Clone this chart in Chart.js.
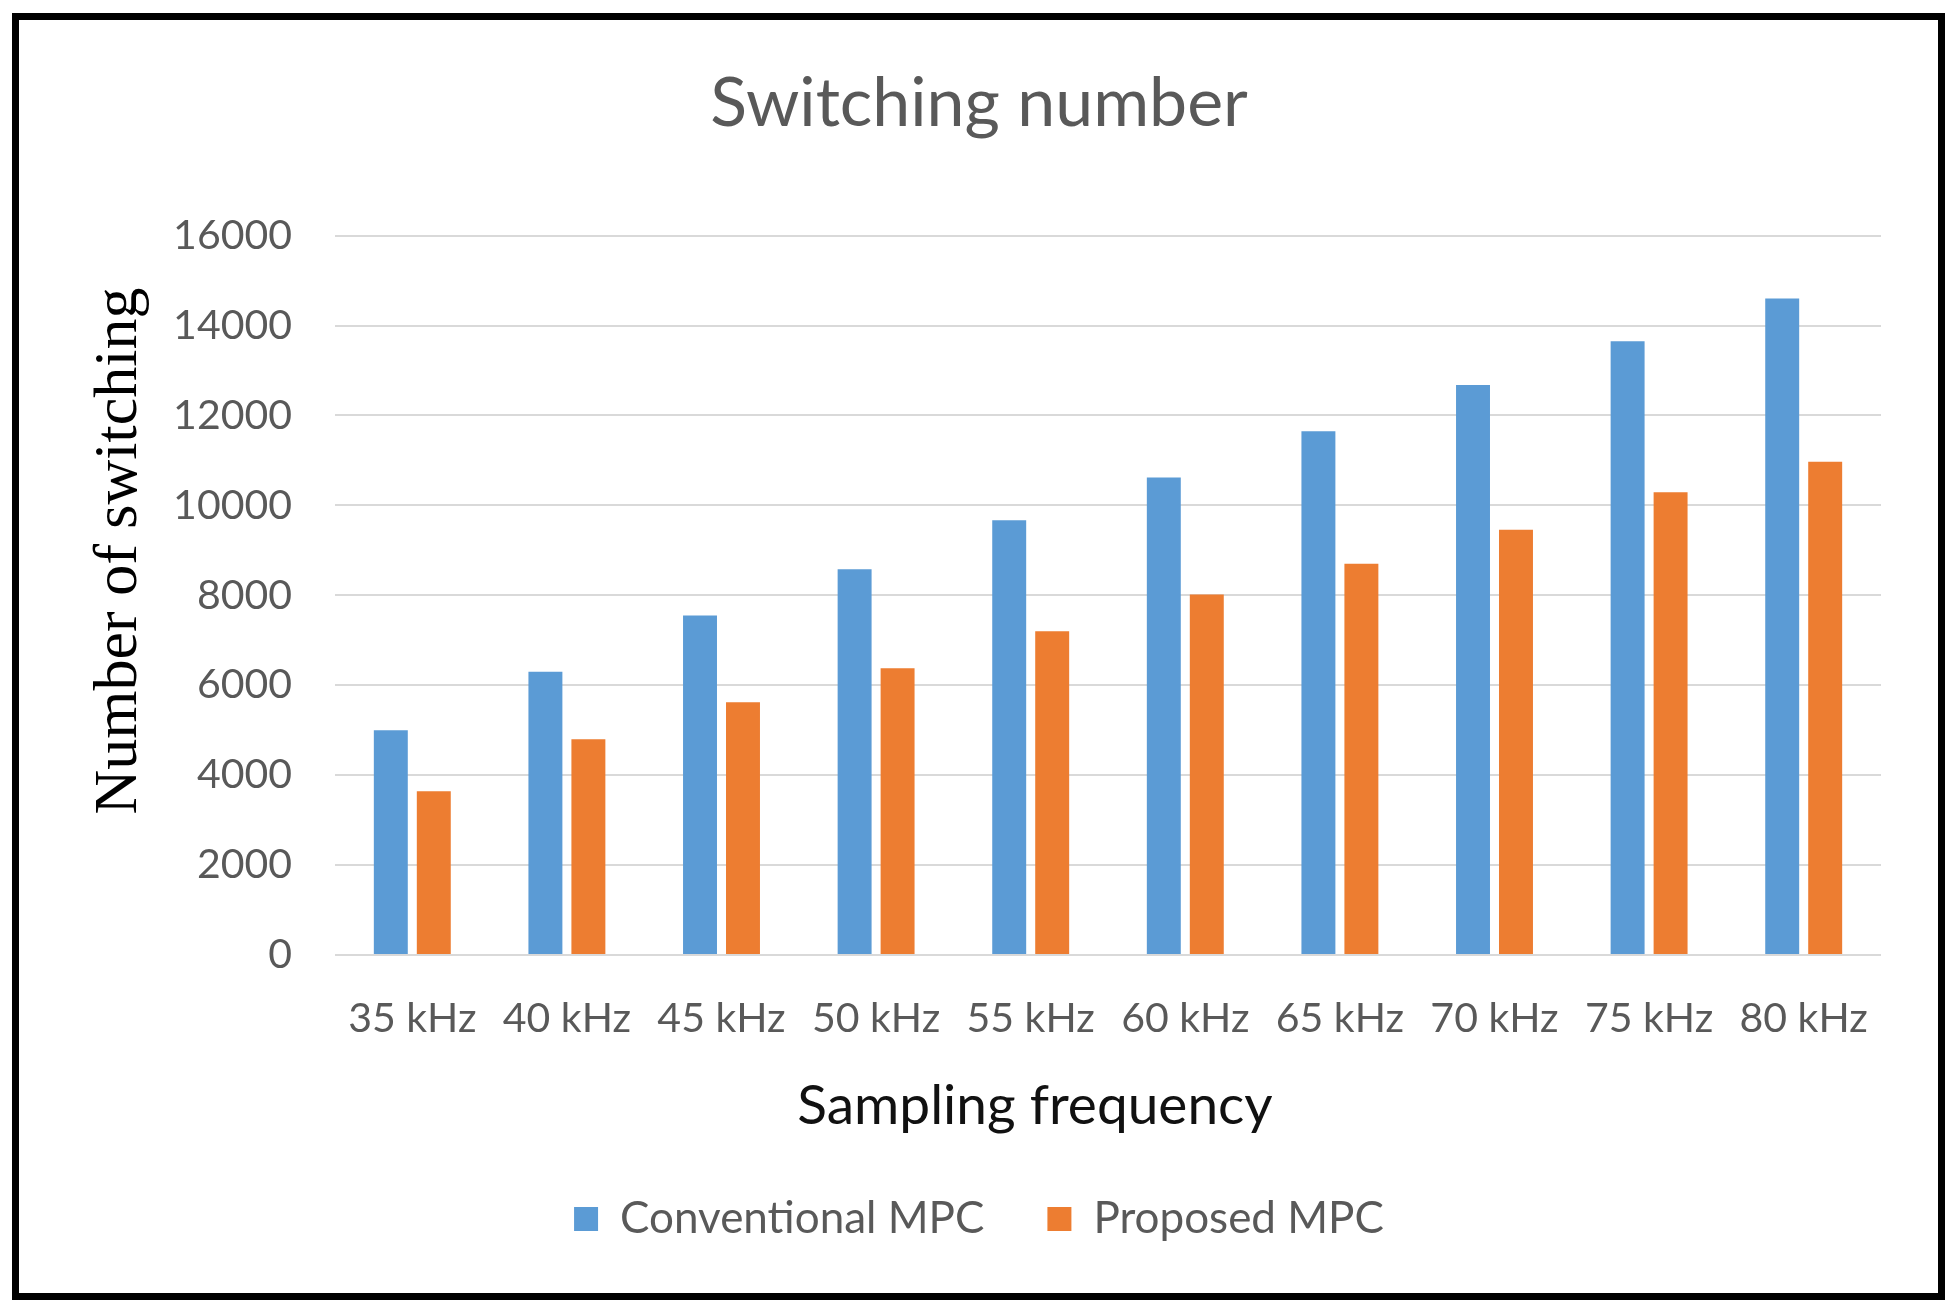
<!DOCTYPE html>
<html>
<head>
<meta charset="utf-8">
<title>Switching number</title>
<script src="https://cdn.jsdelivr.net/npm/chart.js@4"></script>
<style>
  html, body { margin: 0; padding: 0; background: #fff; }
  #wrap { position: relative; width: 1958px; height: 1312px; }
  #frame {
    position: absolute; left: 12px; top: 13px; width: 1933px; height: 1287px;
    border: 7px solid #000; box-sizing: border-box; pointer-events: none;
  }
</style>
</head>
<body>
<div id="wrap">
  <canvas id="switchChart" width="1958" height="1312"></canvas>
  <div id="frame"></div>
</div>
<script>
// ===============================
// Data
// ===============================
const categories = ["35 kHz", "40 kHz", "45 kHz", "50 kHz", "55 kHz",
                    "60 kHz", "65 kHz", "70 kHz", "75 kHz", "80 kHz"];
const conventionalMPC = [5000, 6300, 7550, 8580, 9670, 10620, 11650, 12680, 13650, 14600];
const proposedMPC = [3640, 4800, 5620, 6380, 7200, 8020, 8700, 9460, 10290, 10970];
const yTicks = [0, 2000, 4000, 6000, 8000, 10000, 12000, 14000, 16000];

const GREY_TEXT = "#595959";
const SANS = "Lato, 'Open Sans', sans-serif";

// Axis titles are placed the way Excel put them (not centred on the plot)
const axisTitles = {
  id: "axisTitles",
  afterDraw(chart) {
    const { ctx } = chart;
    ctx.save();
    // y title, serif, rotated
    ctx.translate(136, 551);
    ctx.rotate(-Math.PI / 2);
    ctx.font = "62px 'Liberation Serif', 'DejaVu Serif', serif";
    ctx.fillStyle = "#000";
    ctx.textAlign = "center";
    ctx.textBaseline = "alphabetic";
    ctx.fillText("Number of switching", 0, 0);
    ctx.restore();

    ctx.save();
    ctx.font = "55px " + SANS;
    ctx.fillStyle = "#111";
    ctx.textAlign = "center";
    ctx.textBaseline = "alphabetic";
    ctx.fillText("Sampling frequency", 1035, 1124);
    ctx.restore();
  }
};

document.addEventListener("DOMContentLoaded", function () {
  const ctx = document.getElementById("switchChart");

  new Chart(ctx, {
    type: "bar",
    data: {
      labels: categories,
      datasets: [
        {
          label: "Conventional MPC",
          data: conventionalMPC,
          backgroundColor: "#5B9BD5",
          categoryPercentage: 0.556,
          barPercentage: 0.79
        },
        {
          label: "Proposed MPC",
          data: proposedMPC,
          backgroundColor: "#ED7D31",
          categoryPercentage: 0.556,
          barPercentage: 0.79
        }
      ]
    },
    options: {
      responsive: false,
      animation: false,
      devicePixelRatio: 1,
      layout: { padding: { top: 20, left: 77, right: 77, bottom: 61 } },
      plugins: {
        title: {
          display: true,
          text: "Switching number",
          color: GREY_TEXT,
          font: { family: SANS, size: 68, weight: "normal" },
          padding: { top: 43, bottom: 91 }
        },
        legend: {
          position: "bottom",
          labels: {
            color: GREY_TEXT,
            font: { family: SANS, size: 44 },
            boxWidth: 24,
            boxHeight: 24,
            padding: 63
          }
        },
        tooltip: { enabled: false }
      },
      scales: {
        x: {
          grid: { display: false, drawTicks: false },
          border: { display: false },
          ticks: {
            color: GREY_TEXT,
            font: { family: SANS, size: 41 },
            padding: 39,
            maxRotation: 0,
            autoSkip: false
          },
          afterFit(scale) { scale.height = 179; }
        },
        y: {
          min: 0,
          max: 16000,
          afterBuildTicks(scale) {
            scale.ticks = yTicks.map((v) => ({ value: v }));
          },
          grid: { color: "#D9D9D9", lineWidth: 2, drawTicks: false },
          border: { display: false },
          ticks: {
            color: GREY_TEXT,
            font: { family: SANS, size: 41 },
            padding: 43,
            callback: (v) => String(v)
          },
          afterFit(scale) { scale.width = 258; }
        }
      }
    },
    plugins: [axisTitles]
  });
});
</script>
</body>
</html>
